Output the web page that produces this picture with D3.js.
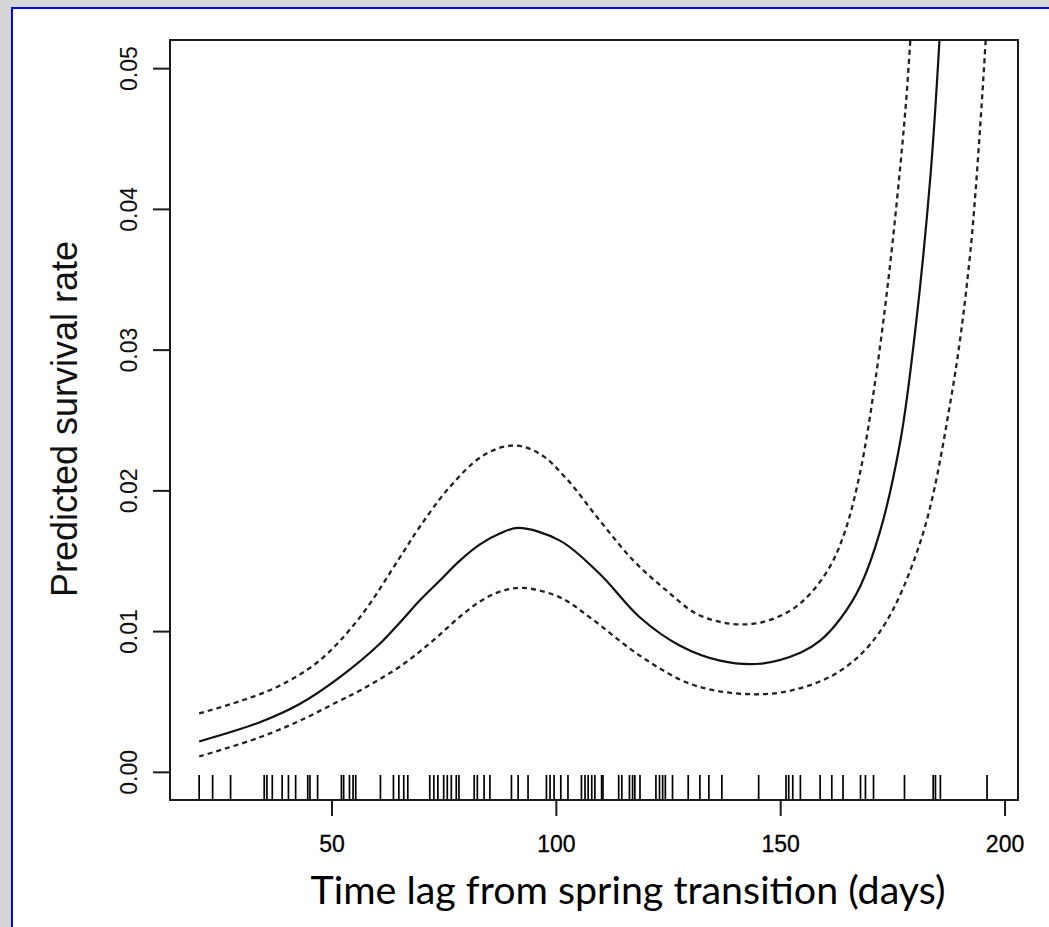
<!DOCTYPE html>
<html>
<head>
<meta charset="utf-8">
<script src="https://cdn.jsdelivr.net/npm/d3@7"></script>
<style>
  html, body { margin: 0; padding: 0; background: #d7d7d7; }
  svg { display: block; }
</style>
</head>
<body>
<svg id="chart" width="1049" height="927"></svg>
<script>
// ---- data ----
const xTicks = [50, 100, 150, 200];
const yTicks = [0.00, 0.01, 0.02, 0.03, 0.04, 0.05];
const xTitle = "Time lag from spring transition (days)";
const yTitle = "Predicted survival rate";

// fitted curve (solid)
const fitDays = [20.5, 33.9, 42.9, 51.8, 60.7, 65.2, 69.6, 74.1, 78.6, 83.0, 87.5, 91.6, 100.9, 109.8, 118.75, 127.7, 136.6, 145.5, 154.5, 158.9, 163.4, 167.9, 172.3, 176.8, 180.1, 183.5, 185.5];
const fitRate = [0.00216, 0.00351, 0.00482, 0.00671, 0.00908, 0.0106, 0.01216, 0.01358, 0.01501, 0.01615, 0.01693, 0.01733, 0.01643, 0.01406, 0.01097, 0.00896, 0.0079, 0.00768, 0.00846, 0.00932, 0.01088, 0.01323, 0.01714, 0.02354, 0.03137, 0.04239, 0.052];

// upper confidence band (dashed)
const upDays = [20.5, 29.5, 38.4, 47.3, 56.25, 65.2, 69.6, 76.3, 83.8, 90.5, 96.4, 102.4, 109.8, 117.3, 124.7, 131.4, 138.8, 145.5, 152.2, 156.7, 161.2, 164.5, 167.9, 171.2, 174.6, 177.9, 179.0];
const upRate = [0.00415, 0.00501, 0.00612, 0.0079, 0.01095, 0.01522, 0.01738, 0.02022, 0.02248, 0.02319, 0.0226, 0.02082, 0.01785, 0.01501, 0.01287, 0.01122, 0.01053, 0.0106, 0.01145, 0.01266, 0.01465, 0.01714, 0.02141, 0.02781, 0.03634, 0.04701, 0.052];

// lower confidence band (dashed)
const loDays = [20.5, 33.9, 42.9, 51.8, 56.25, 60.7, 65.2, 69.6, 74.1, 78.6, 83.0, 87.5, 92.7, 100.9, 107.6, 118.75, 129.9, 141.1, 152.2, 163.4, 172.3, 181.3, 188.0, 192.4, 195.8];
const loRate = [0.00109, 0.00244, 0.00363, 0.00505, 0.00576, 0.00658, 0.00747, 0.00853, 0.00974, 0.01102, 0.01209, 0.0128, 0.01307, 0.0124, 0.01097, 0.00825, 0.00626, 0.00555, 0.00576, 0.00718, 0.01, 0.0164, 0.0264, 0.037, 0.052];

// rug of observed time lags
const rugDays = [20.5, 23.5, 27.5, 35, 35.6, 36.8, 39, 40.4, 42, 44.7, 45.2, 46.9, 52.2, 52.7, 54, 54.8, 55.4, 60.9, 63.8,
  65, 66.1, 67, 71.9, 72.8, 73.7, 75, 75.8, 76.7, 77.8, 78.4, 81.8, 82.5, 84, 85.3, 90.1, 91.6, 93.8, 97.9, 98.7, 99.6,
  101.1, 102.7, 105.7, 106.5, 107.2, 108, 108.7, 110.2, 110.5, 114, 114.7, 116.4, 117.1, 117.6, 118.75, 122.3, 123.1,
  123.8, 124.4, 126, 129.5, 132.1, 134.1, 137, 145.2, 151.3, 151.9, 152.8, 154.5, 158.9, 161.5, 164, 167.9, 169, 170.8,
  177.7, 184.1, 184.6, 185.7, 196.1];

// ---- layout ----
const svg = d3.select("#chart");
const W = 1049, H = 927;
const plot = { left: 170, right: 1018, top: 40, bottom: 800 };

// page background panel with blue border
svg.append("rect").attr("x", 0).attr("y", 0).attr("width", W).attr("height", H).attr("fill", "#d6d6d6");
svg.append("rect").attr("x", 12).attr("y", 8).attr("width", W + 20).attr("height", H + 20)
  .attr("fill", "#ffffff").attr("stroke", "#0000ff").attr("stroke-width", 2);

const x = d3.scaleLinear().domain([14, 203]).range([plot.left, plot.right]);
const y = d3.scaleLinear().domain([-0.002, 0.052]).range([plot.bottom, plot.top]);

svg.append("defs").append("clipPath").attr("id", "clip")
  .append("rect").attr("x", plot.left).attr("y", plot.top)
  .attr("width", plot.right - plot.left).attr("height", plot.bottom - plot.top);

const g = svg.append("g").attr("clip-path", "url(#clip)");

const line = d3.line().x(d => x(d[0])).y(d => y(d[1])).curve(d3.curveCatmullRom.alpha(0.5));
const zip = (a, b) => a.map((v, i) => [v, b[i]]);

g.append("path").datum(zip(fitDays, fitRate)).attr("d", line)
  .attr("fill", "none").attr("stroke", "#111").attr("stroke-width", 2.2);
[zip(upDays, upRate), zip(loDays, loRate)].forEach(pts => {
  g.append("path").datum(pts).attr("d", line)
    .attr("fill", "none").attr("stroke", "#222").attr("stroke-width", 2.3)
    .attr("stroke-dasharray", "5,4");
});

// rug
svg.append("g").selectAll("line").data(rugDays).join("line")
  .attr("x1", d => x(d)).attr("x2", d => x(d))
  .attr("y1", plot.bottom).attr("y2", plot.bottom - 25)
  .attr("stroke", "#000").attr("stroke-width", 1.7);

// box
svg.append("rect").attr("x", plot.left).attr("y", plot.top)
  .attr("width", plot.right - plot.left).attr("height", plot.bottom - plot.top)
  .attr("fill", "none").attr("stroke", "#1a1a1a").attr("stroke-width", 2);

// x axis
const xAxis = svg.append("g").attr("transform", `translate(0,${plot.bottom})`)
  .call(d3.axisBottom(x).tickValues(xTicks).tickSize(16).tickPadding(20).tickFormat(d3.format("d")));
xAxis.select(".domain").remove();
xAxis.selectAll(".tick line").attr("stroke", "#1a1a1a").attr("stroke-width", 2);
xAxis.selectAll(".tick text").attr("font-family", "Liberation Sans, Arial, sans-serif")
  .attr("font-size", 23).attr("fill", "#000").attr("stroke", "#000").attr("stroke-width", 0.3);

// y axis
const yAxis = svg.append("g").attr("transform", `translate(${plot.left},0)`)
  .call(d3.axisLeft(y).tickValues(yTicks).tickSize(17).tickFormat(d3.format(".2f")));
yAxis.select(".domain").remove();
yAxis.selectAll(".tick line").attr("stroke", "#1a1a1a").attr("stroke-width", 2);
yAxis.selectAll(".tick text")
  .attr("font-family", "Liberation Sans, Arial, sans-serif").attr("font-size", 23).attr("fill", "#111")
  .attr("x", null).attr("dy", null)
  .attr("text-anchor", "middle")
  .attr("transform", "translate(-33,0) rotate(-90)");

// titles
svg.append("text").attr("transform", `translate(77,419) rotate(-90)`)
  .attr("text-anchor", "middle")
  .attr("font-family", "Liberation Sans, Arial, sans-serif").attr("font-size", 36).attr("fill", "#111")
  .text(yTitle);

const xt = svg.append("text").attr("x", 628).attr("y", 904).attr("text-anchor", "middle")
  .attr("font-family", "Lato, Open Sans, sans-serif").attr("font-size", 31).attr("fill", "#000")
  .text(xTitle);
// fit the title to the width it spans in the reference (about 635 px)
const tw = xt.node().getComputedTextLength();
if (tw > 0) xt.attr("font-size", 31 * 635 / tw);
</script>
</body>
</html>
